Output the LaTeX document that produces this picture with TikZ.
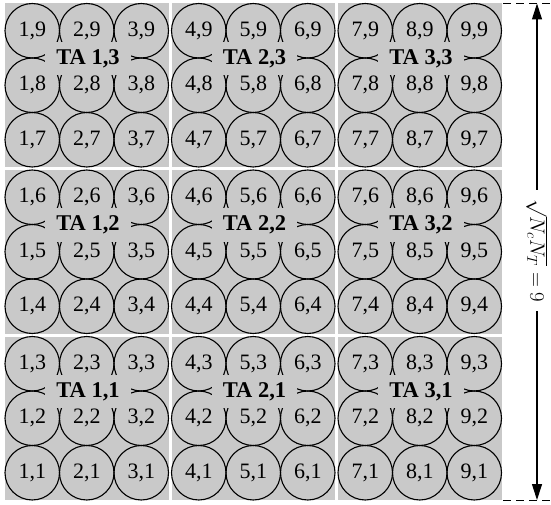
\documentclass[tikz,border=0pt]{standalone}
\usepackage{fontspec}
\setmainfont{Liberation Serif}
\usepackage{tikz}
\usetikzlibrary{arrows.meta}

\definecolor{tagray}{gray}{0.79}

\begin{document}
\begin{tikzpicture}[x=1pt, y=1pt,
    block/.style={fill=tagray, draw=none, minimum size=163.5pt, inner sep=0pt},
    cell/.style={circle, draw, line width=1.1pt, minimum size=54.5pt, inner sep=0pt,
                 font=\fontsize{22}{26}\selectfont},
    talabel/.style={fill=tagray, inner xsep=11pt, minimum height=33pt,
                    font=\fontsize{22.5}{27}\selectfont\bfseries}]
    \useasboundingbox (0,0) rectangle (551,504);
    % blocks with their nine cells
    \foreach \a in {1,2,3}
      \foreach \b in {1,2,3} {
        \node[block] (ta-\a-\b) at ({86.75+166.5*(\a-1)},{85.75+166.5*(\b-1)}) {};
        \foreach \k in {1,2,3}
          \foreach \l in {1,2,3} {
            \pgfmathtruncatemacro{\i}{3*(\a-1)+\k}
            \pgfmathtruncatemacro{\j}{3*(\b-1)+\l}
            \node[cell] (c-\i-\j) at ({5+166.5*(\a-1)+27.25*(2*\k-1)},{4+166.5*(\b-1)+27.25*(2*\l-1)}) {\i,\j};
          }
        \node[talabel] (lab-\a-\b) at ({88+166.5*(\a-1)},{112.5+166.5*(\b-1)}) {TA \a,\b};
      }
    % extent of the grid
    \coordinate (top) at (537,500.5);
    \coordinate (bot) at (537,4);
    \draw[dash pattern=on 8pt off 5pt, line width=0.9pt] (ta-3-3.north east) ++(1.5,0) -- ++(50,0);
    \draw[dash pattern=on 8pt off 5pt, line width=0.9pt] (ta-3-1.south east) ++(1.5,0) -- ++(50,0);
    \draw[line width=1.1pt, {Triangle[length=16pt,width=10pt]}-{Triangle[length=16pt,width=10pt]}] (top) -- (bot)
        node[midway, fill=white, rotate=-90, inner sep=9pt, xshift=-1pt, font=\fontsize{20}{24}\selectfont] (ext) {$\sqrt{N_c N_T} = 9$};
\end{tikzpicture}
\end{document}
